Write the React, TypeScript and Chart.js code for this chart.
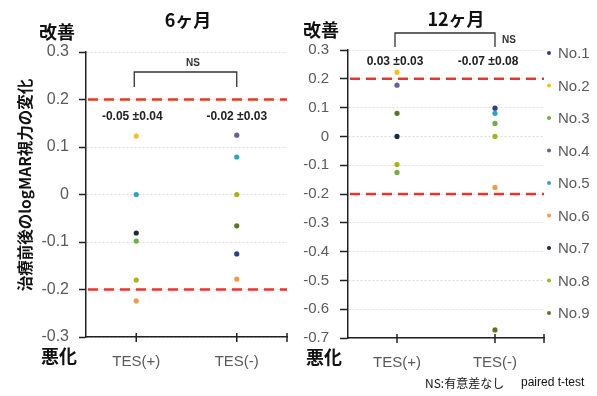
import React, { useEffect, useRef } from 'react';
import { Chart, registerables } from 'chart.js';

Chart.register(...registerables);

const categories = ['TES(+)', 'TES(-)'];
const seriesNames = ['No.1', 'No.2', 'No.3', 'No.4', 'No.5', 'No.6', 'No.7', 'No.8', 'No.9'];
const seriesColors = ['#2b3f86', '#f2c21c', '#6fae45', '#6b5e9e', '#2fa3bd', '#f29a4a', '#1c2a3e', '#a7b21e', '#5b7624'];

// 6 months: values per series (No.1..No.9)
const m6TesPlus = [null, 0.123, -0.098, null, 0.0, -0.224, -0.081, -0.18, null];
const m6TesMinus = [-0.125, null, null, 0.125, 0.079, -0.178, null, 0.0, -0.066];
// 12 months
const m12TesPlus = [null, 0.223, -0.125, 0.178, null, null, 0.0, -0.098, 0.08];
const m12TesMinus = [0.098, null, 0.045, null, 0.08, -0.177, null, 0.0, -0.672];

const m6Ticks = { min: -0.3, max: 0.3 };
const m12Ticks = { min: -0.7, max: 0.3 };
const thresholdLines = [0.2, -0.2];
const m6MeanLabels = ['-0.05 ±0.04', '-0.02 ±0.03'];
const m12MeanLabels = ['0.03 ±0.03', '-0.07 ±0.08'];

const JP = '"Noto Sans CJK JP", "Noto Sans", sans-serif';
const SANS = '"Liberation Sans", Arial, sans-serif';

type Cfg = {
  title: string; titleX: number; titleY: number;
  goodX: number; goodY: number; badX: number; badY: number;
  means: string[]; meanY: number; meanDx: number[];
  brTop: number; brBottom: number; nsX: number; nsY: number; nsAlign: CanvasTextAlign;
  yTitle: boolean; legend: boolean; footnote: boolean;
};

function makeDecor(cfg: Cfg) {
  return {
    id: 'decor',
    beforeDatasetsDraw(chart: any) {
      const { ctx, chartArea: a, scales } = chart;
      const y = scales.y;
      ctx.save();
      ctx.strokeStyle = '#e2392b';
      ctx.lineWidth = 2.5;
      ctx.setLineDash([10, 6]);
      for (const v of thresholdLines) {
        const py = y.getPixelForValue(v);
        ctx.beginPath();
        ctx.moveTo(a.left + 2, py);
        ctx.lineTo(a.right, py);
        ctx.stroke();
      }
      ctx.restore();
    },
    afterDraw(chart: any) {
      const { ctx, chartArea: a, scales } = chart;
      const x = scales.x;
      ctx.save();
      // x ticks
      ctx.strokeStyle = '#222';
      ctx.lineWidth = 1.5;
      const tickXs = categories.map((_, i) => x.getPixelForValue(i));
      tickXs.push(a.right);
      for (const tx of tickXs) {
        ctx.beginPath();
        ctx.moveTo(tx, a.bottom - 4);
        ctx.lineTo(tx, a.bottom + 5);
        ctx.stroke();
      }
      // titles
      ctx.fillStyle = '#111';
      ctx.textAlign = 'center';
      ctx.textBaseline = 'middle';
      ctx.font = `bold 18px ${JP}`;
      ctx.fillText(cfg.title, cfg.titleX, cfg.titleY);
      ctx.font = `bold 18px ${JP}`;
      ctx.fillText('改善', cfg.goodX, cfg.goodY);
      ctx.fillText('悪化', cfg.badX, cfg.badY);
      // mean labels
      ctx.font = `bold 12px ${SANS}`;
      ctx.fillStyle = '#222';
      cfg.means.forEach((m, i) => {
        ctx.fillText(m, x.getPixelForValue(i) + cfg.meanDx[i], cfg.meanY);
      });
      // bracket
      const x0 = x.getPixelForValue(0) - 2;
      const x1 = x.getPixelForValue(1);
      ctx.strokeStyle = '#333';
      ctx.lineWidth = 1.3;
      ctx.beginPath();
      ctx.moveTo(x0, cfg.brBottom);
      ctx.lineTo(x0, cfg.brTop);
      ctx.lineTo(x1, cfg.brTop);
      ctx.lineTo(x1, cfg.brBottom);
      ctx.stroke();
      ctx.font = `bold 10px ${SANS}`;
      ctx.fillStyle = '#333';
      ctx.textAlign = cfg.nsAlign;
      ctx.fillText('NS', cfg.nsX, cfg.nsY);
      // y title
      if (cfg.yTitle) {
        ctx.save();
        ctx.translate(25, 185);
        ctx.rotate(-Math.PI / 2);
        ctx.textAlign = 'center';
        ctx.font = `bold 15.5px ${JP}`;
        ctx.fillStyle = '#111';
        ctx.fillText('治療前後のlogMAR視力の変化', 0, 0);
        ctx.restore();
      }
      // legend
      if (cfg.legend) {
        chart.data.datasets.forEach((ds: any, i: number) => {
          const ly = 53 + i * 32.5;
          ctx.beginPath();
          ctx.fillStyle = ds.backgroundColor;
          ctx.arc(259, ly, 2, 0, Math.PI * 2);
          ctx.fill();
          ctx.fillStyle = '#5a5a5a';
          ctx.font = `15px ${SANS}`;
          ctx.textAlign = 'left';
          ctx.fillText(ds.label, 268, ly + 1);
        });
      }
      if (cfg.footnote) {
        ctx.fillStyle = '#111';
        ctx.textAlign = 'left';
        ctx.font = `12px ${JP}`;
        ctx.fillText('NS:有意差なし', 135, 383);
        ctx.font = `12px ${SANS}`;
        ctx.fillText('paired t-test', 231, 383);
      }
      ctx.restore();
    },
  };
}

function fmt(v: number) {
  if (Math.abs(v) < 1e-9) return '0';
  return v.toFixed(1);
}

function makeConfig(plus: (number | null)[], minus: (number | null)[], range: { min: number; max: number }, yWidth: number, xHeight: number, pad: any, tickPad: number, tickLen: number, fontSize: number, cfg: Cfg): any {
  return {
    type: 'line',
    data: {
      labels: categories,
      datasets: seriesNames.map((name, i) => ({
        label: name,
        data: [plus[i], minus[i]],
        showLine: false,
        backgroundColor: seriesColors[i],
        borderColor: seriesColors[i],
        pointRadius: 2.6,
        pointBorderWidth: 0,
        pointHoverRadius: 2.6,
      })),
    },
    options: {
      responsive: false,
      animation: false,
      layout: { padding: pad },
      plugins: { legend: { display: false }, tooltip: { enabled: false } },
      scales: {
        x: {
          type: 'category',
          offset: true,
          grid: { display: false },
          border: { display: true, color: '#222', width: 1.5 },
          ticks: { color: '#5a5a5a', font: { family: SANS, size: 15 }, padding: 8 },
          afterFit: (s: any) => { s.height = xHeight; },
        },
        y: {
          min: range.min,
          max: range.max,
          grid: { color: '#dcdcdc', lineWidth: 1, tickColor: '#222', tickLength: tickLen, tickWidth: 1.5 },
          border: { display: true, color: '#222', width: 1.5, dash: [2, 2] },
          ticks: { stepSize: 0.1, color: '#5a5a5a', font: { family: SANS, size: fontSize }, padding: tickPad, callback: (v: any) => fmt(Number(v)) },
          afterFit: (s: any) => { s.width = yWidth; },
        },
      },
    },
    plugins: [makeDecor(cfg)],
  };
}

export default function App() {
  const leftRef = useRef<HTMLCanvasElement>(null);
  const rightRef = useRef<HTMLCanvasElement>(null);
  useEffect(() => {
    const c1 = new Chart(leftRef.current!, makeConfig(m6TesPlus, m6TesMinus, m6Ticks, 86, 59, { top: 52, right: 3, bottom: 0, left: 0 }, 10, 7, 16, {
      title: '6ヶ月', titleX: 188, titleY: 20, goodX: 57, goodY: 32, badX: 59, badY: 356,
      means: m6MeanLabels, meanY: 117, meanDx: [-4, 0], brTop: 72, brBottom: 87, nsX: 193, nsY: 63, nsAlign: 'center',
      yTitle: true, legend: false, footnote: false,
    }));
    const c2 = new Chart(rightRef.current!, makeConfig(m12TesPlus, m12TesMinus, m12Ticks, 58, 58, { top: 50, right: 53, bottom: 0, left: 0 }, 11, 8, 15, {
      title: '12ヶ月', titleX: 166, titleY: 19, goodX: 31, goodY: 30, badX: 34, badY: 357,
      means: m12MeanLabels, meanY: 62, meanDx: [-2, -7], brTop: 33, brBottom: 47, nsX: 212, nsY: 40, nsAlign: 'left',
      yTitle: false, legend: true, footnote: true,
    }));
    return () => { c1.destroy(); c2.destroy(); };
  }, []);
  return (
    <div style={{ position: 'fixed', left: 0, top: 0, width: 597, height: 396, background: '#fff' }}>
      <canvas ref={leftRef} width={290} height={396} style={{ position: 'absolute', left: 0, top: 0 }} />
      <canvas ref={rightRef} width={307} height={396} style={{ position: 'absolute', left: 290, top: 0 }} />
    </div>
  );
}
